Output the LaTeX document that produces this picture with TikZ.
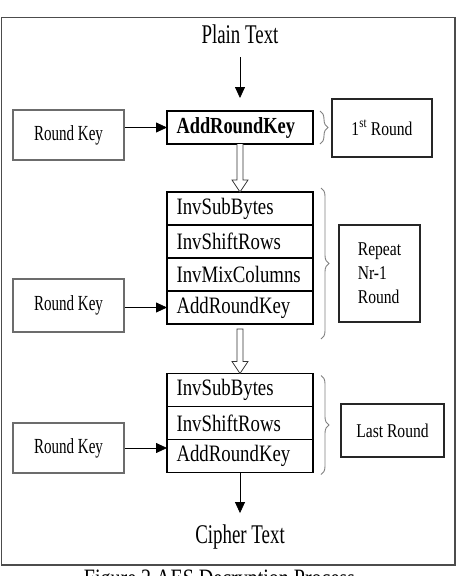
\documentclass[tikz,border=0pt]{standalone}
\usepackage{fontspec}
\setmainfont{Liberation Serif}[FakeStretch=0.8]
\newfontfamily\tallfont{Liberation Serif}[FakeStretch=0.7]
\usetikzlibrary{positioning,arrows.meta,decorations.pathreplacing,calc}

\begin{document}
\begin{tikzpicture}[x=1pt, y=-1pt,
    stage/.style={draw=black, line width=1.3pt, minimum width=146pt, minimum height=33pt,
      inner sep=0pt, outer sep=0pt, text width=127pt, align=left, font=\fontsize{23.5}{26}\selectfont},
    keybox/.style={draw=gray!85!black, line width=1.6pt, minimum width=111pt, inner sep=0pt,
      font=\tallfont\fontsize{21.5}{24}\selectfont},
    sidebox/.style={draw=black!85, line width=1.2pt, inner sep=0pt, font=\fontsize{19.5}{24}\selectfont},
    endtext/.style={font=\tallfont\fontsize{27}{30}\selectfont, inner sep=2pt},
    flow/.style={-{Triangle[length=11pt,width=10pt]}, line width=0.8pt},
    hollow/.style={draw=black!80, line width=0.8pt, fill=white},
    bracket/.style={decorate, decoration={brace, amplitude=8pt}, draw=gray, line width=0.9pt}]

    % Page: 460 x 576 px, 1px = 1pt, y runs downwards
    \useasboundingbox (0,0) rectangle (460,576);
    \draw[line width=1.6pt, draw=black!70] (1.5,17.5) rectangle (455,565);

    % Input and first round
    \node[endtext, anchor=base] (plain) at (240,43) {Plain Text};
    \node[stage, font=\bfseries\fontsize{23}{26}\selectfont] (akr1) at (240,127.5) {AddRoundKey};
    \node[keybox, minimum height=50pt] (rk1) at (68.5,135) {Round Key};
    \node[sidebox, minimum width=100pt, minimum height=58pt] (first) at (382,128)
      {1\textsuperscript{st} Round};

    % Middle rounds, repeated Nr-1 times
    \node[stage] (isb2) at (240,208.5) {InvSubBytes};
    \node[stage, below=0pt of isb2] (isr2) {InvShiftRows};
    \node[stage, below=0pt of isr2] (imc2) {InvMixColumns};
    \node[stage, below=0pt of imc2] (ark2) {AddRoundKey};
    \node[keybox, minimum height=53pt] (rk2) at (68.5,305.5) {Round Key};
    \node[sidebox, minimum width=81pt, minimum height=97pt, align=left] (repeat) at (379.5,273.5)
      {Repeat\\Nr-1\\Round};

    % Last round, no InvMixColumns
    \node[stage] (isb3) at (240,390) {InvSubBytes};
    \node[stage, below=0pt of isb3] (isr3) {InvShiftRows};
    \node[stage, below=0pt of isr3] (ark3) {AddRoundKey};
    \node[keybox, minimum height=50pt] (rk3) at (68.5,448) {Round Key};
    \node[sidebox, minimum width=103pt, minimum height=53pt] (last) at (392.5,430.5) {Last Round};

    \node[endtext, anchor=base] (cipher) at (240,543) {Cipher Text};

    % Figure caption, cut by the lower page edge
    \node[endtext, font=\fontsize{25}{28}\selectfont, anchor=base] (caption) at (219.5,586)
      {Figure 2 AES Decryption Process};

    % Solid arrows
    \draw[flow, shorten <=12pt, shorten >=13pt] (plain.south) -- (akr1.north);
    \draw[flow] (rk1.east |- akr1.west) -- (akr1.west);
    \draw[flow] (rk2.east |- ark2.west) -- (ark2.west);
    \draw[flow] (rk3.east) -- (rk3.east -| ark3.west);
    \draw[flow, shorten >=9pt] (ark3.south) -- (cipher.north);

    % Hollow arrows between the rounds
    \draw[hollow] let \p1=(akr1.south), \p2=(isb2.north) in
      (\x1-3pt,\y1) -- (\x1-3pt,\y2+12pt) -- (\x1-8pt,\y2+12pt) -- (\x1,\y2)
      -- (\x1+8pt,\y2+12pt) -- (\x1+3pt,\y2+12pt) -- (\x1+3pt,\y1);
    \draw[hollow] let \p1=(ark2.south), \p2=(isb3.north) in
      (\x1-3pt,\y1-5pt) -- (\x1-3pt,\y2+12pt) -- (\x1-8pt,\y2+12pt) -- (\x1,\y2)
      -- (\x1+8pt,\y2+12pt) -- (\x1+3pt,\y2+12pt) -- (\x1+3pt,\y1-5pt) -- cycle;

    % Braces
    \draw[bracket] ($(akr1.north east)+(7,0)$) -- ($(akr1.south east)+(7,0)$);
    \draw[bracket] ($(isb2.north east)+(8,-4)$) -- ($(ark2.south east)+(8,15)$);
    \draw[bracket] ($(isb3.north east)+(8,2)$) -- ($(ark3.south east)+(8,2)$);

  \end{tikzpicture}
\end{document}
